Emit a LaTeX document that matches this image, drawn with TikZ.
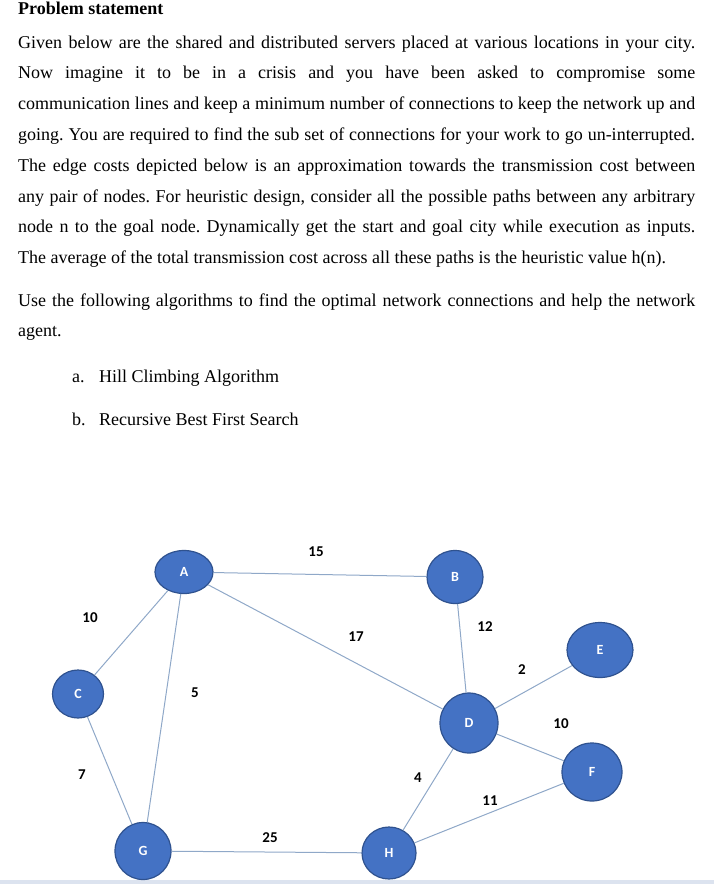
\documentclass[tikz,border=0pt]{standalone}
\usepackage{fontspec}
\setmainfont{Liberation Serif}
\newfontfamily\calibri{Carlito}
\usetikzlibrary{shapes.geometric}
\definecolor{nodeblue}{HTML}{4472C4}
\definecolor{nodeedge}{HTML}{2F528F}
\definecolor{linkgrey}{HTML}{8FA8C8}
\definecolor{stripgrey}{HTML}{DCE3EF}
\setlength{\parindent}{0pt}
\frenchspacing

\begin{document}
\begin{tikzpicture}[x=1pt,y=-1pt,
  txt/.style={anchor=base west,inner sep=0pt,font=\fontsize{18}{30.8}\selectfont},
  nd/.style={ellipse,draw=nodeedge,line width=1.2pt,fill=nodeblue,inner sep=0pt,
    text=white,font=\calibri\bfseries\fontsize{14}{14}\selectfont},
  cost/.style={inner sep=1pt,font=\calibri\bfseries\fontsize{15}{15}\selectfont},
  ln/.style={draw=linkgrey,line width=1pt}]
  \useasboundingbox (0,0) rectangle (714,884);
  \fill[stripgrey] (0,880) rectangle (714,884);

  % problem text
  \node[txt,font=\bfseries\fontsize{18}{21}\selectfont] (title) at (18,14) {Problem statement};
  \node[txt,text width=677pt,align=justify] (par1) at (18,48) {Given below are the shared and distributed servers placed at various locations in your city.\linebreak
    Now imagine it to be in a crisis and you have been asked to compromise some\linebreak
    communication lines and keep a minimum number of connections to keep the network up and\linebreak
    going. You are required to find the sub set of connections for your work to go un-interrupted.\linebreak
    The edge costs depicted below is an approximation towards the transmission cost between\linebreak
    any pair of nodes. For heuristic design, consider all the possible paths between any arbitrary\linebreak
    node n to the goal node. Dynamically get the start and goal city while execution as inputs.\linebreak
    The average of the total transmission cost across all these paths is the heuristic value h(n).};
  \node[txt,text width=677pt,align=justify] (par2) at (18,306) {Use the following algorithms to find the optimal network connections and help the network\linebreak
    agent.};
  \node[txt] (ia) at (72,382) {a.};
  \node[txt] (itema) at (99,382) {Hill Climbing Algorithm};
  \node[txt] (ib) at (72,425) {b.};
  \node[txt] (itemb) at (99,425) {Recursive Best First Search};

  % servers
  \node[nd,minimum width=58pt,minimum height=43pt] (A) at (184,572) {A};
  \node[nd,minimum width=56pt,minimum height=53pt] (B) at (455,577) {B};
  \node[nd,minimum width=51pt,minimum height=48pt] (C) at (78,694) {C};
  \node[nd,minimum width=58pt,minimum height=60pt] (D) at (469,723) {D};
  \node[nd,minimum width=66pt,minimum height=55pt] (E) at (600,650) {E};
  \node[nd,minimum width=60pt,minimum height=58pt] (F) at (592,772) {F};
  \node[nd,minimum width=56pt,minimum height=57pt] (G) at (143,851) {G};
  \node[nd,minimum width=54pt,minimum height=52pt] (H) at (389,853) {H};

  % links
  \draw[ln] (A) -- (B);
  \draw[ln] (A) -- (C);
  \draw[ln] (A) -- (G);
  \draw[ln] (A) -- (D);
  \draw[ln] (B) -- (D);
  \draw[ln] (D) -- (E);
  \draw[ln] (D) -- (F);
  \draw[ln] (D) -- (H);
  \draw[ln] (F) -- (H);
  \draw[ln] (C) -- (G);
  \draw[ln] (G) -- (H);

  % costs
  \node[cost] (wab) at (316,552) {15};
  \node[cost] (wac) at (90,618) {10};
  \node[cost] (wad) at (356,637) {17};
  \node[cost] (wbd) at (485,627) {12};
  \node[cost] (wde) at (522,670) {2};
  \node[cost] (wag) at (195,693) {5};
  \node[cost] (wdf) at (561,724) {10};
  \node[cost] (wcg) at (82,775) {7};
  \node[cost] (wdh) at (418,778) {4};
  \node[cost] (wfh) at (490,801) {11};
  \node[cost] (wgh) at (270,838) {25};
\end{tikzpicture}
\end{document}
